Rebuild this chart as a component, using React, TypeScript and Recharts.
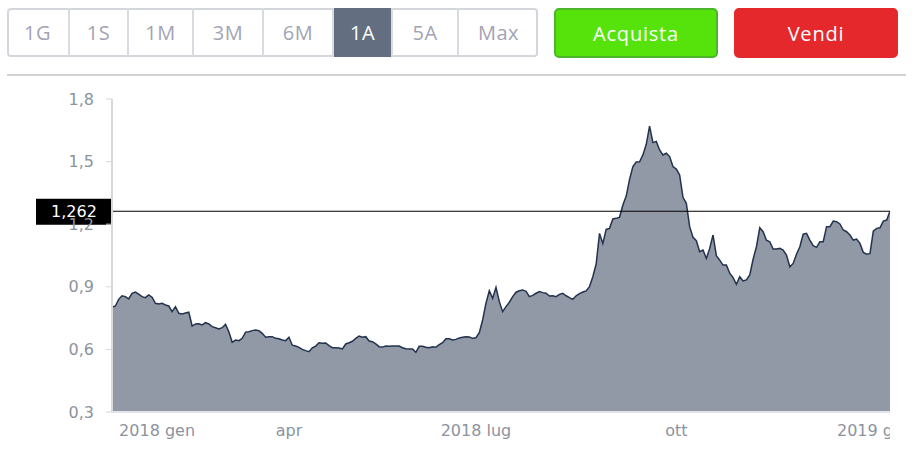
import { Area, AreaChart, ReferenceLine, XAxis, YAxis } from 'recharts'

// prezzi giornalieri (gen 2018 - gen 2019)
const prices = [
  0.802, 0.808, 0.84, 0.857, 0.853, 0.842, 0.869, 0.875, 0.865, 0.853,
  0.848, 0.861, 0.85, 0.821, 0.818, 0.821, 0.813, 0.808, 0.781, 0.805,
  0.773, 0.77, 0.774, 0.778, 0.712, 0.722, 0.723, 0.717, 0.728, 0.722,
  0.709, 0.704, 0.698, 0.704, 0.72, 0.685, 0.634, 0.645, 0.642, 0.653,
  0.683, 0.685, 0.69, 0.693, 0.69, 0.677, 0.658, 0.661, 0.661, 0.653,
  0.651, 0.645, 0.642, 0.658, 0.62, 0.616, 0.61, 0.6, 0.594, 0.589,
  0.608, 0.616, 0.632, 0.629, 0.631, 0.618, 0.608, 0.608, 0.607, 0.602,
  0.626, 0.632, 0.639, 0.653, 0.664, 0.658, 0.661, 0.64, 0.637, 0.626,
  0.613, 0.611, 0.616, 0.615, 0.616, 0.616, 0.616, 0.608, 0.603, 0.602,
  0.602, 0.586, 0.615, 0.615, 0.61, 0.608, 0.613, 0.61, 0.623, 0.632,
  0.651, 0.651, 0.645, 0.648, 0.655, 0.658, 0.661, 0.659, 0.653, 0.656,
  0.68, 0.741, 0.821, 0.881, 0.845, 0.897, 0.829, 0.781,
  0.805, 0.826, 0.853, 0.874, 0.881, 0.885, 0.878, 0.853, 0.859, 0.869,
  0.877, 0.872, 0.869, 0.856, 0.857, 0.853, 0.864, 0.869, 0.857, 0.848,
  0.84, 0.857, 0.867, 0.875, 0.88, 0.901, 0.948, 1.009, 1.156, 1.108,
  1.175, 1.18, 1.225, 1.228, 1.233, 1.292, 1.335, 1.415, 1.476, 1.498,
  1.499, 1.532, 1.583, 1.67, 1.591, 1.597, 1.556, 1.532, 1.54, 1.524,
  1.476, 1.464, 1.436, 1.329, 1.3, 1.188, 1.137, 1.121, 1.068,
  1.076, 1.036, 1.084, 1.148, 1.049, 1.028, 1.004, 1.004, 0.965, 0.944,
  0.912, 0.948, 0.928, 0.933, 0.957, 1.032, 1.092, 1.183, 1.164, 1.123,
  1.116, 1.081, 1.081, 1.084, 1.076, 1.052, 0.996, 1.012, 1.056, 1.092,
  1.152, 1.156, 1.124, 1.097, 1.089, 1.116, 1.116, 1.188, 1.188, 1.215,
  1.212, 1.201, 1.172, 1.164, 1.148, 1.124, 1.129, 1.108, 1.065, 1.056,
  1.059, 1.167, 1.18, 1.183, 1.215, 1.22, 1.262,
]

const tickIndex = [13.5, 53, 109, 169, 228.5]
const tickLabels = ['2018 gen', 'apr', '2018 lug', 'ott', '2019 gen']
const yTicks = [0.3, 0.6, 0.9, 1.2, 1.5, 1.8]
const lastPrice = 1.262

const ranges = ['1G', '1S', '1M', '3M', '6M', '1A', '5A', 'Max']
const rangeEdges = [7, 68, 127, 192, 262, 332, 391, 457, 538]
const activeRange = '1A'

const data = prices.map((v, i) => ({ i, v }))

const fmt = (v: number, d = 1) => v.toFixed(d).replace('.', ',')

const PriceTag = (props: any) => {
  const { x, y } = props.viewBox
  return (
    <g>
      <rect x={x - 76} y={y - 12.5} width={75} height={26} fill='#000' />
      <text
        x={x - 38}
        y={y}
        dy='0.36em'
        textAnchor='middle'
        fill='#fff'
        fontSize={16}
        fontFamily='DejaVu Sans'
      >
        {fmt(lastPrice, 3)}
      </text>
    </g>
  )
}

function RangeBar() {
  return (
    <>
      <div
        style={{
          position: 'absolute',
          left: 7,
          top: 8,
          width: 531,
          height: 49,
          border: '2px solid #d3d6db',
          borderRadius: 4,
          boxSizing: 'border-box',
        }}
      />
      {ranges.map((r, k) => {
        const left = rangeEdges[k]
        const width = rangeEdges[k + 1] - left
        const active = r === activeRange
        return (
          <div
            key={r}
            style={{
              position: 'absolute',
              left,
              top: 8,
              width,
              height: 49,
              boxSizing: 'border-box',
              borderLeft: k === 0 ? 'none' : '2px solid #d8dbe0',
              background: active ? '#636e80' : 'transparent',
              color: active ? '#fff' : '#a3a3b3',
              display: 'flex',
              alignItems: 'center',
              justifyContent: 'center',
              fontFamily: 'Open Sans',
              fontSize: 20,
              letterSpacing: 0.5,
            }}
          >
            {r}
          </div>
        )
      })}
    </>
  )
}

function TradeButton({ left, label, bg, border }: any) {
  return (
    <div
      style={{
        position: 'absolute',
        left,
        top: 8,
        width: 164,
        height: 50,
        boxSizing: 'border-box',
        background: bg,
        border: `2px solid ${border}`,
        borderRadius: 5,
        color: '#fff',
        display: 'flex',
        alignItems: 'center',
        justifyContent: 'center',
        fontFamily: 'Open Sans',
        fontSize: 20,
        letterSpacing: 0.8,
      }}
    >
      {label}
    </div>
  )
}

export default function App() {
  return (
    <div style={{ position: 'absolute', left: 0, top: 0, width: 923, height: 449, background: '#fff' }}>
      <RangeBar />
      <TradeButton left={554} label='Acquista' bg='#56e30c' border='#4bb52c' />
      <TradeButton left={734} label='Vendi' bg='#e5282b' border='#e5282b' />
      <div style={{ position: 'absolute', left: 7, top: 74, width: 899, height: 2, background: '#d2d2d2' }} />
      <div style={{ position: 'absolute', left: 0, top: 80 }}>
        <AreaChart width={890} height={369} data={data} margin={{ top: 19, right: 0, bottom: 7, left: 62 }}>
          <XAxis
            dataKey='i'
            type='number'
            domain={[0, prices.length - 1]}
            ticks={tickIndex}
            tickFormatter={(v: number) => tickLabels[tickIndex.indexOf(v)]}
            interval={0}
            height={30}
            tickLine={false}
            tickSize={6}
            tickMargin={7}
            axisLine={{ stroke: '#e1e4ea', strokeWidth: 2 }}
            tick={{ fill: '#8c939e', fontSize: 16, fontFamily: 'DejaVu Sans' }}
          />
          <YAxis
            type='number'
            domain={[0.3, 1.8]}
            ticks={yTicks}
            interval={0}
            width={50}
            tickFormatter={(v: number) => fmt(v)}
            tickSize={6}
            tickMargin={12}
            tickLine={{ stroke: '#d6d6d6' }}
            axisLine={{ stroke: '#d9d9d9', strokeWidth: 2 }}
            tick={{ fill: '#8c939e', fontSize: 16, fontFamily: 'DejaVu Sans' }}
          />
          <Area
            type='linear'
            dataKey='v'
            stroke='#23324d'
            strokeWidth={1.5}
            fill='#9199a6'
            fillOpacity={1}
            isAnimationActive={false}
            dot={false}
            activeDot={false}
          />
          <ReferenceLine y={lastPrice} stroke='#000' strokeWidth={1.2} label={PriceTag} />
        </AreaChart>
      </div>
    </div>
  )
}
